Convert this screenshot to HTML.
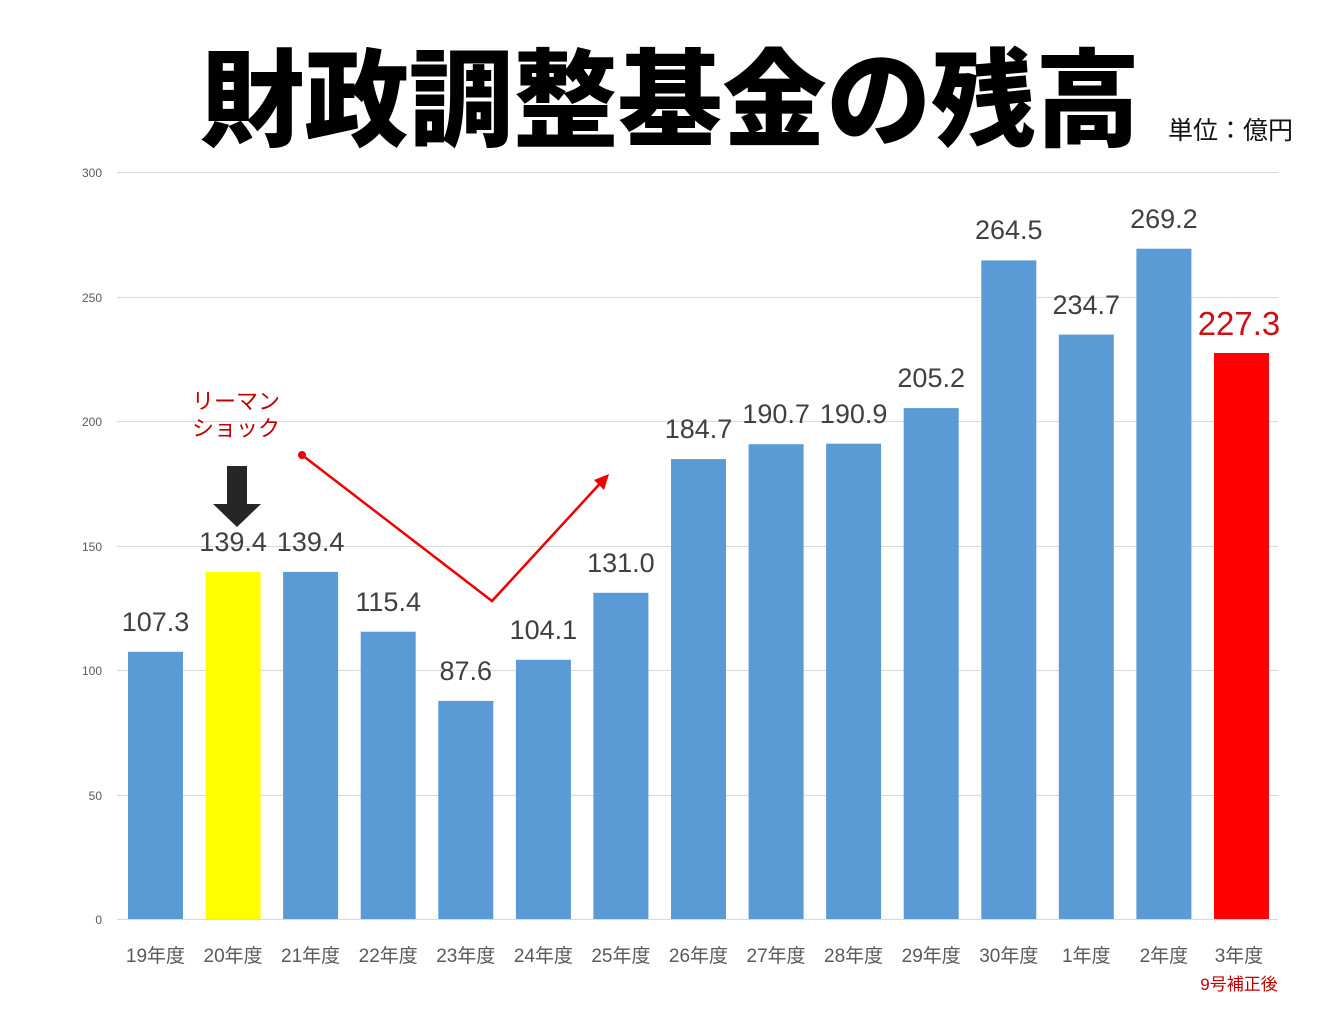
<!DOCTYPE html>
<html><head><meta charset="utf-8"><style>
html,body{margin:0;padding:0;background:#fff;}
svg text{font-family:"Liberation Sans","Noto Sans CJK JP",sans-serif;}
</style></head><body>
<svg width="1344" height="1008" viewBox="0 0 1344 1008" xmlns="http://www.w3.org/2000/svg">
<text x="670" y="138" text-anchor="middle" font-size="106" font-weight="900" fill="#000" style="font-family:'Noto Sans CJK JP',sans-serif" textLength="940" lengthAdjust="spacingAndGlyphs">財政調整基金の残高</text>
<text x="1168" y="139" font-size="25" fill="#111" style="font-family:'Noto Sans CJK JP',sans-serif">単位：億円</text>
<g stroke="#d9d9d9" stroke-width="1">
<line x1="117" y1="172.5" x2="1278" y2="172.5"/>
<line x1="117" y1="297.5" x2="1278" y2="297.5"/>
<line x1="117" y1="421.5" x2="1278" y2="421.5"/>
<line x1="117" y1="546.5" x2="1278" y2="546.5"/>
<line x1="117" y1="670.5" x2="1278" y2="670.5"/>
<line x1="117" y1="795.5" x2="1278" y2="795.5"/>
<line x1="117" y1="919.5" x2="1278" y2="919.5"/>
</g>
<g font-size="12" fill="#595959" text-anchor="end">
<text x="102" y="177">300</text><text x="102" y="302">250</text><text x="102" y="426">200</text>
<text x="102" y="551">150</text><text x="102" y="675">100</text><text x="102" y="800">50</text><text x="102" y="924">0</text>
</g>
<g fill="#5b9bd5">
<rect x="128" y="651.8" width="55" height="267.2"/>
<rect x="205.6" y="571.9" width="55" height="347.1" fill="#ffff00"/>
<rect x="283.1" y="571.9" width="55" height="347.1"/>
<rect x="360.7" y="631.7" width="55" height="287.3"/>
<rect x="438.3" y="700.9" width="55" height="218.1"/>
<rect x="515.9" y="659.8" width="55" height="259.2"/>
<rect x="593.4" y="592.8" width="55" height="326.2"/>
<rect x="671" y="459.1" width="55" height="459.9"/>
<rect x="748.6" y="444.2" width="55" height="474.8"/>
<rect x="826.1" y="443.7" width="55" height="475.3"/>
<rect x="903.7" y="408.1" width="55" height="510.9"/>
<rect x="981.3" y="260.4" width="55" height="658.6"/>
<rect x="1058.8" y="334.6" width="55" height="584.4"/>
<rect x="1136.4" y="248.7" width="55" height="670.3"/>
<rect x="1214" y="353" width="55" height="566" fill="#ff0000"/>
</g>
<g font-size="27" fill="#404040" text-anchor="middle">
<text x="155.5" y="631">107.3</text>
<text x="233.1" y="551">139.4</text>
<text x="310.6" y="551">139.4</text>
<text x="388.2" y="611">115.4</text>
<text x="465.8" y="680">87.6</text>
<text x="543.4" y="639">104.1</text>
<text x="620.9" y="572">131.0</text>
<text x="698.5" y="438">184.7</text>
<text x="776.1" y="423">190.7</text>
<text x="853.6" y="423">190.9</text>
<text x="931.2" y="387">205.2</text>
<text x="1008.8" y="239">264.5</text>
<text x="1086.3" y="314">234.7</text>
<text x="1163.9" y="228">269.2</text>
</g>
<text x="1239" y="335" text-anchor="middle" font-size="33" fill="#d01010">227.3</text>
<g font-size="19" fill="#595959" text-anchor="middle">
<text x="155.5" y="962">19年度</text><text x="233.1" y="962">20年度</text><text x="310.6" y="962">21年度</text>
<text x="388.2" y="962">22年度</text><text x="465.8" y="962">23年度</text><text x="543.4" y="962">24年度</text>
<text x="620.9" y="962">25年度</text><text x="698.5" y="962">26年度</text><text x="776.1" y="962">27年度</text>
<text x="853.6" y="962">28年度</text><text x="931.2" y="962">29年度</text><text x="1008.8" y="962">30年度</text>
<text x="1086.3" y="962">1年度</text><text x="1163.9" y="962">2年度</text><text x="1239" y="962">3年度</text>
</g>
<polyline points="302,455 492,601 606,477" fill="none" stroke="#e00" stroke-width="2.5"/>
<circle cx="302" cy="455" r="4" fill="#e00"/>
<polygon points="609,474 594,480 604,490" fill="#e00"/>
<rect x="227" y="466" width="20" height="40" fill="#262626"/>
<polygon points="213,504 261,504 237,527" fill="#262626"/>
<text x="236" y="409" text-anchor="middle" font-size="22" fill="#c00000">リーマン</text>
<text x="236" y="436" text-anchor="middle" font-size="22" fill="#c00000">ショック</text>
<text x="1239" y="990" text-anchor="middle" font-size="17" fill="#c00000">9号補正後</text>
</svg>
</body></html>
